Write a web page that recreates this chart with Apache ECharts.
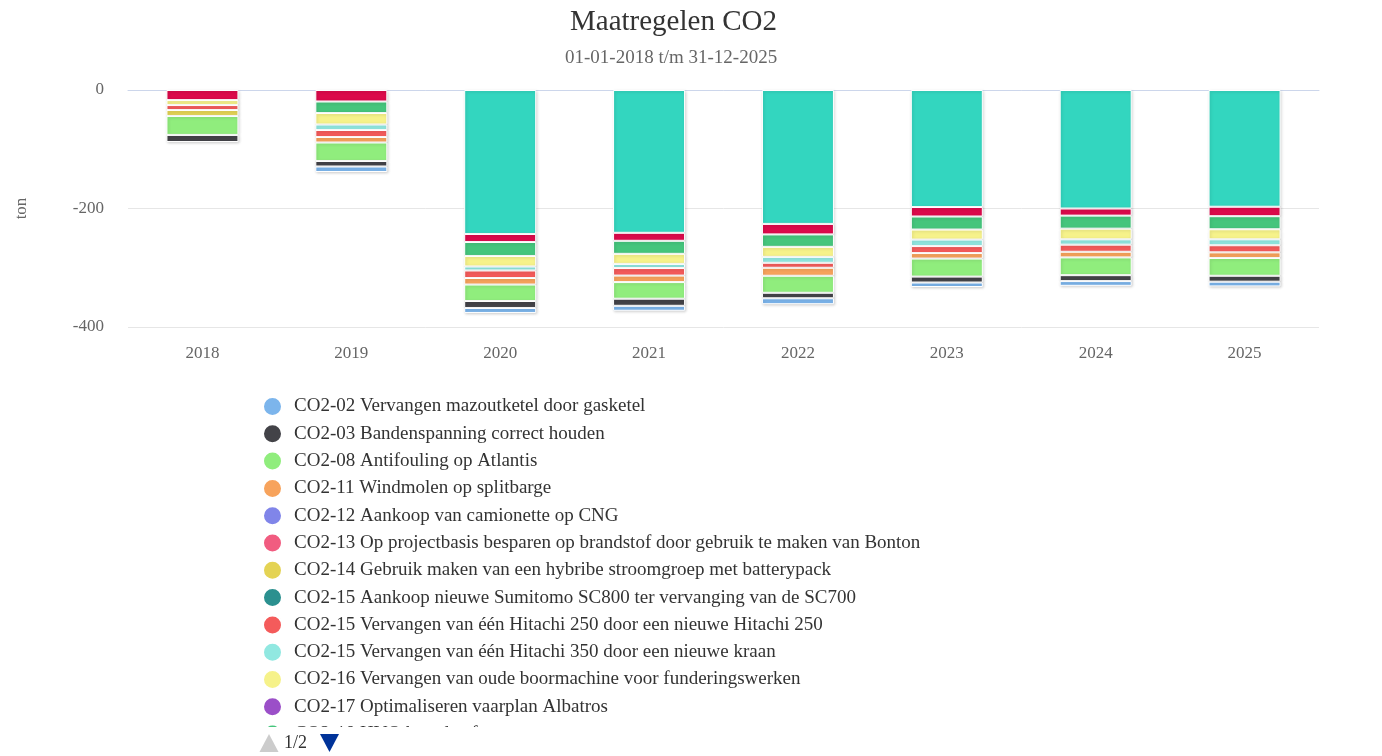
<!DOCTYPE html>
<html>
<head>
<meta charset="utf-8">
<script src="https://cdn.jsdelivr.net/npm/echarts@6/dist/echarts.min.js"></script>
<style>html,body{margin:0;padding:0;background:#fff;}#main{width:1382px;height:756px;}</style>
</head>
<body>
<div id="main"></div>
<script>
var categories = ['2018','2019','2020','2021','2022','2023','2024','2025'];
var yTicks = {min: -400, max: 0, interval: 200};
var titleText = 'Maatregelen CO2';
var subtitleText = '01-01-2018 t/m 31-12-2025';
var pagerText = '1/2';

// Series in legend order (first = farthest from zero in the stack)
var names = [
  'CO2-02 Vervangen mazoutketel door gasketel',
  'CO2-03 Bandenspanning correct houden',
  'CO2-08 Antifouling op Atlantis',
  'CO2-11 Windmolen op splitbarge',
  'CO2-12 Aankoop van camionette op CNG',
  'CO2-13 Op projectbasis besparen op brandstof door gebruik te maken van Bonton',
  'CO2-14 Gebruik maken van een hybribe stroomgroep met batterypack',
  'CO2-15 Aankoop nieuwe Sumitomo SC800 ter vervanging van de SC700',
  'CO2-15 Vervangen van één Hitachi 250 door een nieuwe Hitachi 250',
  'CO2-15 Vervangen van één Hitachi 350 door een nieuwe kraan',
  'CO2-16 Vervangen van oude boormachine voor funderingswerken',
  'CO2-17 Optimaliseren vaarplan Albatros',
  'CO2-18 HVO brandstof',
  'CO2-19 Zonnepanelen op kantoor',
  'CO2-20 Aankoop groene stroom'
];
var colors = ['#7cb5ec','#434348','#90ed7d','#f7a35c','#8085e9','#f15c80','#e4d354','#2b908f','#f45b5b','#91e8e1','#f6f28a','#9b4fc8','#45c57c','#db0a4b','#33d6bf'];

var co2_02 = [null, -9.3, -8.4, -8.4, -10, -7.6, -8, -8];
var co2_03 = [-12, -9.3, -11.8, -12, -9.3, -10, -10, -10];
var co2_08 = [-32, -31.2, -27.8, -28, -28.7, -30.4, -30, -30];
var co2_11 = [null, -9.3, -11, -11, -13.5, -9.3, -9.5, -9.5];
var co2_12 = [null, null, null, null, null, null, null, null];
var co2_13 = [null, null, null, null, null, null, null, null];
var co2_14 = [-10, null, null, null, null, null, null, null];
var co2_15a = [null, null, null, null, null, null, null, null];
var co2_15b = [-8.4, -11.8, -12.7, -12.7, -8.4, -11.8, -12, -12];
var co2_15c = [null, -9.3, -6.8, -7, -10, -11, -9, -10];
var co2_16 = [-8.4, -19.4, -17.7, -17, -16.9, -16.9, -18, -17];
var co2_17 = [null, null, null, null, null, null, null, null];
var co2_18 = [null, -19.4, -23.6, -22, -21, -22, -22, -22];
var co2_19 = [-17, -19.4, -13.5, -13.5, -17.7, -16, -12, -16];
var co2_20 = [null, null, -243, -241, -226, -197.5, -200, -197];

var values = [co2_02, co2_03, co2_08, co2_11, co2_12, co2_13, co2_14, co2_15a, co2_15b, co2_15c, co2_16, co2_17, co2_18, co2_19, co2_20];

var serif = "'Liberation Serif', 'Times New Roman', serif";

var series = [];
for (var i = values.length - 1; i >= 0; i--) {
  series.push({
    name: names[i],
    type: 'bar',
    stack: 'total',
    data: values[i],
    barWidth: 72,
    itemStyle: {
      color: colors[i],
      borderColor: '#ffffff',
      borderWidth: 1,
      shadowBlur: 3,
      shadowColor: 'rgba(0,0,0,0.18)',
      shadowOffsetX: 1,
      shadowOffsetY: 1
    }
  });
}

var transparent = 'rgba(0,0,0,0)';

var chart = echarts.init(document.getElementById('main'));
chart.setOption({
  animation: false,
  backgroundColor: '#ffffff',
  color: colors,
  title: [
    {
      text: titleText,
      left: 565,
      top: 3,
      textStyle: {fontFamily: serif, fontSize: 29, fontWeight: 'normal', color: '#333333'}
    },
    {
      text: subtitleText,
      left: 560,
      top: 44,
      textStyle: {fontFamily: serif, fontSize: 19, fontWeight: 'normal', color: '#666666'}
    }
  ],
  grid: {left: 128, right: 63, top: 90, bottom: 429},
  xAxis: {
    type: 'category',
    data: categories,
    axisLine: {lineStyle: {color: '#ccd6eb'}},
    axisTick: {show: false},
    axisLabel: {fontFamily: serif, fontSize: 17, color: '#666666', margin: 18}
  },
  yAxis: {
    type: 'value',
    min: yTicks.min,
    max: yTicks.max,
    interval: yTicks.interval,
    name: 'ton',
    nameLocation: 'middle',
    nameGap: 98,
    nameTextStyle: {fontFamily: serif, fontSize: 17, color: '#666666'},
    axisLine: {show: false},
    axisTick: {show: false},
    axisLabel: {fontFamily: serif, fontSize: 17, color: '#666666', margin: 24},
    splitLine: {lineStyle: {color: '#e6e6e6'}}
  },
  legend: {
    type: 'scroll',
    orient: 'vertical',
    left: 257,
    top: 391,
    height: 359,
    data: names,
    icon: 'circle',
    itemWidth: 19,
    itemHeight: 19,
    itemGap: 6.3,
    textStyle: {fontFamily: serif, fontSize: 19, color: '#333333', padding: [0, 0, 0, 7]},
    pageButtonGap: 10,
    pageIconColor: transparent,
    pageIconInactiveColor: transparent,
    pageIconSize: 17,
    pageTextStyle: {fontFamily: serif, fontSize: 18, color: transparent},
    pageFormatter: '{current}/{total}'
  },
  graphic: [
    {type: 'polygon', shape: {points: [[269, 734], [278.5, 752], [259.5, 752]]}, style: {fill: '#cccccc'}},
    {type: 'text', left: 284, top: 734, style: {text: pagerText, font: "18px 'Liberation Serif', 'Times New Roman', serif", fill: '#333333'}},
    {type: 'polygon', shape: {points: [[320, 734], [339, 734], [329.5, 752]]}, style: {fill: '#003399'}}
  ],
  series: series
});
</script>
</body>
</html>
